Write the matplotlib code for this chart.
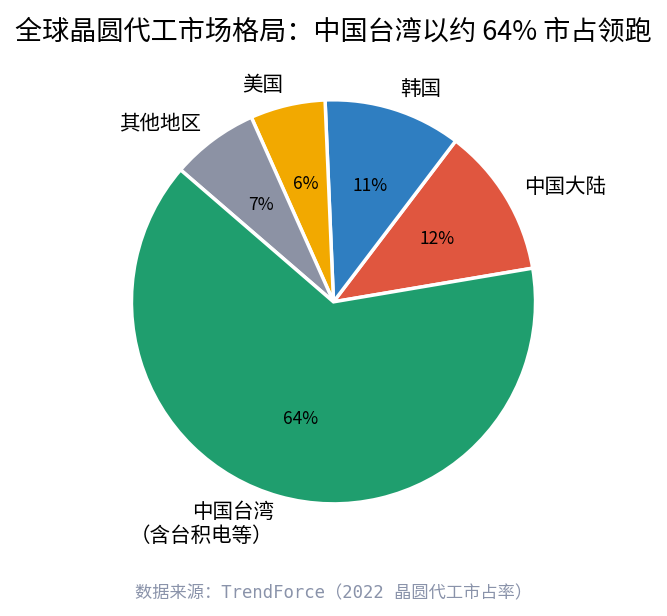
import matplotlib
matplotlib.use('Agg')
import matplotlib.pyplot as plt

plt.rcParams['font.family'] = ['Noto Sans CJK SC', 'DejaVu Sans']

# market share data (TrendForce 2022)
labels = ['中国大陆', '韩国', '美国', '其他地区', '中国台湾\n（含台积电等）']
shares = [12, 11, 6, 7, 64]
colors = ['#e0563f', '#2f7ec1', '#f2a900', '#8c92a4', '#1f9e6e']

fig = plt.figure(figsize=(6.67, 6.16), dpi=100)
ax = fig.add_axes([0.5 - 0.303, 0.51 - 0.328, 0.606, 0.656])

wedges, texts, autotexts = ax.pie(
    shares, labels=labels, colors=colors, startangle=9.6, counterclock=True,
    autopct='%d%%', pctdistance=0.6, labeldistance=1.1,
    wedgeprops=dict(edgecolor='white', linewidth=2.5),
    textprops=dict(fontsize=14.8),
)
for t in autotexts:
    t.set_fontsize(12.5)
    t.set_color('black')
# bottom label: right aligned, sits a bit lower in the original
tw = texts[-1]
tw.set_horizontalalignment('right')
tw.set_linespacing(1.1)
x0, y0 = tw.get_position()
tw.set_position((x0, y0 - 0.04))

ax.set_xlim(-1, 1)
ax.set_ylim(-1, 1)
ax.set_aspect('equal')

fig.text(0.5, 0.948, '全球晶圆代工市场格局：中国台湾以约 64% 市占领跑',
         ha='center', va='center', fontsize=19.5)
fig.text(0.5, 0.036, '数据来源：TrendForce（2022 晶圆代工市占率）',
         ha='center', va='center', fontsize=12.4, color='#8a93aa',
         family=['DejaVu Sans Mono', 'Noto Sans CJK SC'])

fig.savefig('out.png', dpi=100)
